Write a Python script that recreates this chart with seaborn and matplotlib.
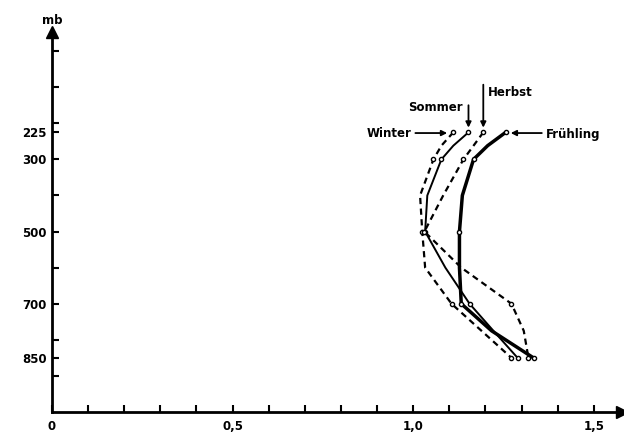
import matplotlib
matplotlib.use("Agg")
import matplotlib.pyplot as plt
import seaborn as sns
import pandas as pd

sns.set_theme(style="white")
plt.rcParams['font.family'] = ['DejaVu Sans']
plt.rcParams['text.color'] = 'black'

# pressure levels (mb) at which the curves were read
curve_levels = [225, 262, 300, 400, 500, 600, 700, 775, 850]
# marked observation levels
marked_levels = [225, 300, 500, 700, 850]

winter = [1.111, 1.078, 1.056, 1.019, 1.025, 1.033, 1.106, 1.189, 1.272]
sommer = [1.153, 1.111, 1.078, 1.039, 1.033, 1.089, 1.156, 1.222, 1.289]
herbst = [1.194, 1.167, 1.139, 1.083, 1.031, 1.133, 1.272, 1.306, 1.319]
fruehling = [1.256, 1.206, 1.167, 1.136, 1.128, 1.128, 1.133, 1.217, 1.333]

seasons = ["Winter", "Sommer", "Herbst", "Frühling"]
series = [winter, sommer, herbst, fruehling]

y_tick_labels = ["225", "300", "500", "700", "850"]
x_tick_vals = [0, 0.5, 1.0, 1.5]
x_tick_labels = ["0", "0,5", "1,0", "1,5"]

rows = []
for s, vals in zip(seasons, series):
    for lev, v in zip(curve_levels, vals):
        rows.append({"season": s, "mb": lev, "wert": v})
df = pd.DataFrame(rows)
marks = df[df["mb"].isin(marked_levels)]

fig = plt.figure(figsize=(6.24, 4.36), dpi=100)
ax = fig.add_axes([52 / 624, 1 - 412 / 436, (622 - 52) / 624, (412 - 32) / 436])

dashes = {"Winter": (2.8, 2.0), "Sommer": "", "Herbst": (2.8, 2.0), "Frühling": ""}
sizes = {"Winter": 1.6, "Sommer": 1.4, "Herbst": 1.6, "Frühling": 2.5}
sns.lineplot(data=df, x="wert", y="mb", hue="season", style="season", size="season",
             palette={s: "black" for s in seasons}, dashes=dashes, sizes=sizes,
             sort=False, estimator=None, units="season", legend=False, ax=ax)
sns.scatterplot(data=marks, x="wert", y="mb", color="white", edgecolor="black",
                linewidth=1.0, s=9, zorder=5, legend=False, ax=ax)

ax.set_xlim(0, 1.578)
ax.set_ylim(1000, -53)

for side in ["top", "right"]:
    ax.spines[side].set_visible(False)
for side in ["left", "bottom"]:
    ax.spines[side].set_linewidth(2.0)
    ax.spines[side].set_color("black")

ax.set_yticks(marked_levels)
ax.set_yticklabels(y_tick_labels)
ax.set_yticks([0, 100, 200, 400, 600, 800, 900], minor=True)
ax.set_xticks(x_tick_vals)
ax.set_xticklabels(x_tick_labels)
ax.set_xticks([0.1, 0.2, 0.3, 0.4, 0.6, 0.7, 0.8, 0.9, 1.1, 1.2, 1.3, 1.4], minor=True)
ax.tick_params(axis="both", which="both", direction="in", length=5, width=1.5,
               color="black", labelcolor="black", labelsize=8.5, pad=4,
               bottom=True, left=True)
ax.tick_params(axis="x", which="major", pad=6)
for lab in ax.get_xticklabels() + ax.get_yticklabels():
    lab.set_fontweight("bold")
ax.set_xlabel("")
ax.set_ylabel("")

# axis arrows
ax.plot([1.0], [0.0], marker=">", markersize=8, color="black", transform=ax.transAxes, clip_on=False)
ax.plot([0.0], [1.0], marker="^", markersize=8, color="black", transform=ax.transAxes, clip_on=False)
ax.text(0.0, 1.012, "mb", transform=ax.transAxes, ha="center", va="bottom",
        fontsize=8.5, fontweight="bold", color="black")

arrow = dict(arrowstyle="-|>", color="black", lw=1.3, mutation_scale=8, shrinkA=0, shrinkB=0)
tk = dict(fontsize=8.5, fontweight="bold", color="black")
# Winter
ax.text(0.994, 227, "Winter", ha="right", va="center", **tk)
ax.annotate("", xy=(1.094, 227), xytext=(1.006, 227), arrowprops=arrow)
# Frühling
ax.text(1.366, 230, "Frühling", ha="left", va="center", **tk)
ax.annotate("", xy=(1.270, 227), xytext=(1.356, 227), arrowprops=arrow)
# Sommer
ax.text(1.138, 155, "Sommer", ha="right", va="center", **tk)
ax.annotate("", xy=(1.153, 212), xytext=(1.153, 150), arrowprops=arrow)
# Herbst
ax.text(1.206, 114, "Herbst", ha="left", va="center", **tk)
ax.annotate("", xy=(1.194, 212), xytext=(1.194, 93), arrowprops=arrow)

fig.savefig("out.png", dpi=100)
